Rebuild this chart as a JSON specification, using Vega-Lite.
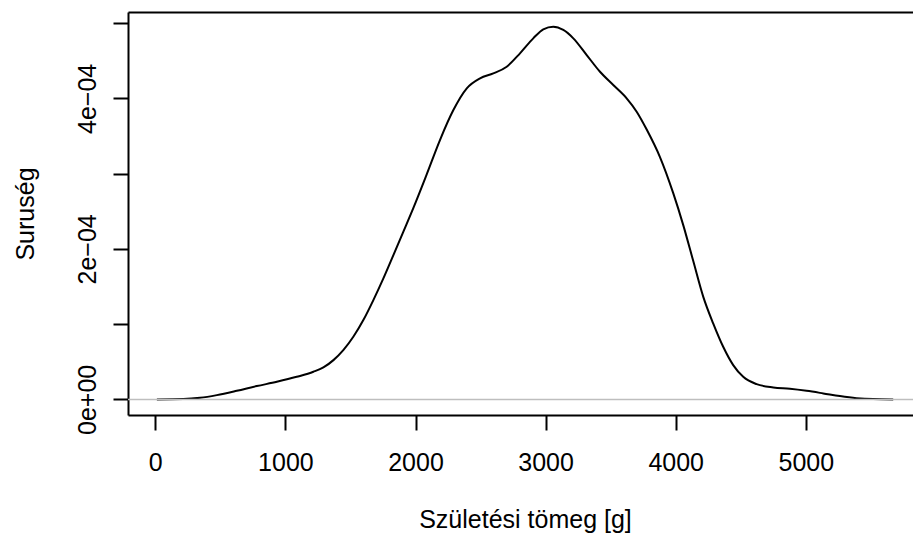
{
  "$schema": "https://vega.github.io/schema/vega-lite/v6.json",
  "width": 785,
  "height": 403,
  "autosize": {"type": "none"},
  "padding": {"left": 128, "top": 12, "right": 0, "bottom": 120},
  "background": "white",
  "config": {
    "view": {"stroke": null},
    "font": "Liberation Sans",
    "axis": {
      "domainColor": "black",
      "domainWidth": 2,
      "tickColor": "black",
      "tickWidth": 2,
      "tickSize": 15,
      "labelFont": "Liberation Sans",
      "labelFontSize": 25,
      "labelColor": "black",
      "titleFont": "Liberation Sans",
      "titleFontSize": 25,
      "titleFontWeight": "normal",
      "titleColor": "black",
      "grid": false,
      "labelFlush": false,
      "labelOverlap": false
    }
  },
  "datasets": {
    "density": [
      {"x": 12, "density": 0},
      {"x": 216, "density": 0.0000004},
      {"x": 344, "density": 0.0000021},
      {"x": 473, "density": 0.0000057},
      {"x": 626, "density": 0.0000114},
      {"x": 780, "density": 0.0000177},
      {"x": 934, "density": 0.0000234},
      {"x": 1087, "density": 0.0000300},
      {"x": 1215, "density": 0.0000367},
      {"x": 1292, "density": 0.0000425},
      {"x": 1369, "density": 0.0000522},
      {"x": 1445, "density": 0.0000655},
      {"x": 1522, "density": 0.0000832},
      {"x": 1599, "density": 0.0001054},
      {"x": 1676, "density": 0.0001320},
      {"x": 1753, "density": 0.0001608},
      {"x": 1830, "density": 0.0001918},
      {"x": 1906, "density": 0.0002227},
      {"x": 1983, "density": 0.0002542},
      {"x": 2086, "density": 0.0002990},
      {"x": 2188, "density": 0.0003446},
      {"x": 2291, "density": 0.0003844},
      {"x": 2394, "density": 0.0004133},
      {"x": 2496, "density": 0.0004266},
      {"x": 2598, "density": 0.0004332},
      {"x": 2701, "density": 0.0004420},
      {"x": 2803, "density": 0.0004598},
      {"x": 2905, "density": 0.0004797},
      {"x": 2982, "density": 0.0004917},
      {"x": 3059, "density": 0.0004951},
      {"x": 3136, "density": 0.0004908},
      {"x": 3213, "density": 0.0004797},
      {"x": 3316, "density": 0.0004575},
      {"x": 3418, "density": 0.0004353},
      {"x": 3520, "density": 0.0004177},
      {"x": 3623, "density": 0.0004000},
      {"x": 3700, "density": 0.0003822},
      {"x": 3777, "density": 0.0003585},
      {"x": 3879, "density": 0.0003220},
      {"x": 3981, "density": 0.0002740},
      {"x": 4058, "density": 0.0002316},
      {"x": 4135, "density": 0.0001838},
      {"x": 4212, "density": 0.0001363},
      {"x": 4288, "density": 0.0001010},
      {"x": 4365, "density": 0.0000699},
      {"x": 4442, "density": 0.0000456},
      {"x": 4519, "density": 0.0000300},
      {"x": 4622, "density": 0.0000203},
      {"x": 4750, "density": 0.0000159},
      {"x": 4878, "density": 0.0000141},
      {"x": 5006, "density": 0.0000114},
      {"x": 5134, "density": 0.0000080},
      {"x": 5262, "density": 0.0000044},
      {"x": 5390, "density": 0.0000017},
      {"x": 5518, "density": 0.0000004},
      {"x": 5672, "density": 0}
    ]
  },
  "resolve": {"axis": {"x": "independent"}},
  "layer": [
    {
      "data": {"name": "density"},
      "mark": {"type": "line", "color": "black", "strokeWidth": 2, "interpolate": "monotone"},
      "encoding": {
        "x": {
          "field": "x",
          "type": "quantitative",
          "scale": {"domain": [-210, 5824], "nice": false, "zero": false},
          "axis": {
            "orient": "bottom",
            "values": [0, 1000, 2000, 3000, 4000, 5000],
            "format": "d",
            "labelAngle": 0,
            "labelAlign": "center",
            "labelBaseline": "alphabetic",
            "labelPadding": 40,
            "title": "Születési tömeg [g]",
            "titleX": 397,
            "titleY": 112,
            "titleAlign": "center",
            "titleBaseline": "alphabetic",
            "titleAngle": 0
          }
        },
        "y": {
          "field": "density",
          "type": "quantitative",
          "scale": {"domain": [-0.0000207, 0.0005147], "nice": false, "zero": false},
          "axis": {
            "orient": "left",
            "values": [0, 0.0001, 0.0002, 0.0003, 0.0004, 0.0005],
            "labelExpr": "abs(datum.value) < 1e-9 ? '0e+00' : abs(datum.value - 0.0002) < 1e-9 ? '2e−04' : abs(datum.value - 0.0004) < 1e-9 ? '4e−04' : ''",
            "labelAngle": -90,
            "labelAlign": "center",
            "labelBaseline": "alphabetic",
            "labelPadding": 18,
            "title": "Suruség",
            "titleAngle": -90,
            "titleX": -95,
            "titleY": 201.5,
            "titleAlign": "center",
            "titleBaseline": "alphabetic"
          }
        }
      }
    },
    {
      "data": {"values": [{}]},
      "mark": {"type": "rule", "color": "#BEBEBE", "strokeWidth": 1.5},
      "encoding": {
        "y": {"datum": 0, "type": "quantitative"},
        "x": {
          "datum": -210,
          "type": "quantitative",
          "axis": {"orient": "top", "labels": false, "ticks": false, "title": null, "domain": true}
        },
        "x2": {"datum": 5824}
      }
    }
  ]
}
